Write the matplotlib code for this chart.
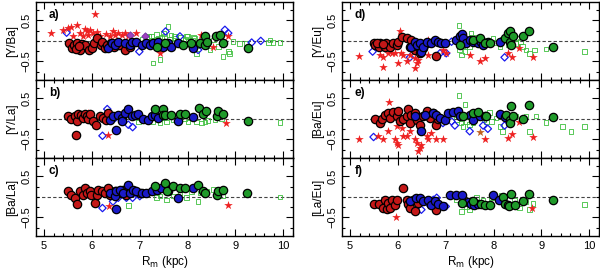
import numpy as np
import matplotlib
matplotlib.use('Agg')
import matplotlib.pyplot as plt
from matplotlib.ticker import MultipleLocator, FixedLocator

plt.rcParams['font.family'] = ['Liberation Sans', 'DejaVu Sans']

# ---- panel a) [Y/Ba]
a_red_x = [5.51, 5.58, 5.62, 5.69, 5.76, 5.79, 5.86, 5.93, 6.00, 6.04, 6.11, 6.18, 6.21, 6.28, 6.32, 6.39, 6.46, 6.56, 6.70, 6.80, 5.66, 5.72]
a_red_y = [-0.06, -0.18, -0.10, -0.06, -0.22, -0.08, -0.10, -0.22, -0.18, -0.06, 0.06, -0.10, -0.02, -0.18, -0.10, -0.06, -0.14, -0.10, -0.22, -0.14, -0.20, -0.12]
a_blue_x = [6.34, 6.41, 6.48, 6.55, 6.69, 6.79, 6.83, 6.93, 7.04, 7.14, 7.21, 7.28, 7.38, 7.49, 7.59, 7.66, 7.80, 8.12]
a_blue_y = [-0.18, -0.06, -0.10, -0.02, -0.04, -0.10, -0.02, -0.02, -0.10, -0.06, -0.10, -0.06, -0.02, -0.14, -0.06, -0.14, -0.06, -0.18]
a_green_x = [7.35, 7.52, 7.90, 8.08, 8.26, 8.36, 8.36, 8.40, 8.60, 8.67, 8.74, 9.27]
a_green_y = [-0.14, -0.06, -0.10, -0.06, -0.04, 0.11, -0.10, -0.02, 0.11, 0.15, -0.06, -0.18]
a_sq_x = [7.05, 7.12, 7.18, 7.22, 7.28, 7.30, 7.35, 7.40, 7.42, 7.45, 7.50, 7.55, 7.59, 7.62, 7.68, 7.72, 7.78, 7.85, 7.90, 7.95,
          8.00, 8.05, 8.10, 8.15, 8.19, 8.25, 8.30, 8.35, 8.47, 8.54, 8.64, 8.74, 8.85, 8.88, 8.95, 9.09, 9.23, 9.69, 9.72, 9.79, 9.93,
          7.15, 7.25, 7.33, 7.38, 7.48, 7.52, 7.65, 7.75, 7.82, 7.98, 8.02, 8.12, 8.22, 8.40]
a_sq_y = [0.05, -0.02, 0.10, -0.08, -0.54, 0.02, 0.15, -0.05, -0.46, 0.08, 0.18, -0.12, 0.35, 0.05, -0.04, 0.12, 0.00, 0.08, -0.06, 0.04,
          0.10, -0.10, 0.02, 0.06, -0.30, -0.05, 0.05, 0.02, -0.22, 0.02, -0.14, -0.38, -0.26, -0.30, -0.02, -0.06, -0.06, -0.04, 0.02, -0.04, -0.04,
          0.08, 0.12, -0.10, 0.06, -0.02, 0.10, 0.14, 0.06, -0.08, 0.12, -0.02, 0.08, -0.12, -0.06]
a_dia_x = [5.47, 6.99, 7.54, 7.84, 8.22, 8.78, 8.85, 9.34, 9.53]
a_dia_y = [0.20, -0.26, 0.23, 0.11, -0.22, 0.27, 0.19, -0.04, 0.00]
a_star_x = [5.15, 5.40, 5.50, 5.57, 5.60, 5.68, 5.75, 5.82, 5.89, 5.92, 5.96, 6.03, 6.06, 6.16, 6.37, 6.44, 6.48, 6.55, 6.62, 6.69, 6.76, 6.93,
            7.42, 8.29, 8.54, 8.85, 5.85, 6.10, 6.30]
a_star_y = [0.19, 0.27, 0.31, 0.35, 0.11, 0.39, 0.19, 0.11, 0.23, 0.15, 0.27, 0.19, 0.66, 0.11, 0.11, 0.23, 0.15, 0.19, 0.15, 0.19, 0.11, 0.19,
            -0.30, 0.15, -0.14, 0.11, 0.30, 0.22, 0.18]
a_purple_x = [6.80, 7.11]
a_purple_y = [0.15, 0.12]

# ---- panel b) [Y/La]
b_red_x = [5.50, 5.57, 5.64, 5.66, 5.68, 5.71, 5.78, 5.82, 5.85, 5.89, 5.92, 5.96, 6.03, 6.09, 6.16, 6.23, 6.30, 6.34]
b_red_y = [0.08, 0.00, 0.07, -0.38, -0.06, 0.13, 0.10, 0.02, 0.13, 0.08, 0.00, 0.13, -0.06, -0.14, 0.07, 0.02, -0.02, 0.15]
b_blue_x = [6.37, 6.44, 6.50, 6.55, 6.62, 6.62, 6.69, 6.76, 6.83, 6.90, 6.97, 7.07, 7.18, 7.25, 7.32, 7.38, 7.80, 8.12]
b_blue_y = [-0.02, 0.07, -0.28, 0.10, 0.02, -0.06, 0.15, 0.23, 0.07, 0.10, 0.13, 0.00, -0.02, 0.07, 0.10, 0.02, -0.06, 0.05]
b_green_x = [7.32, 7.49, 7.49, 7.53, 7.66, 7.84, 7.94, 8.24, 8.33, 8.38, 8.61, 8.64, 8.74, 9.27]
b_green_y = [0.23, 0.23, 0.10, 0.10, 0.10, 0.13, 0.13, 0.27, 0.13, 0.19, 0.07, 0.19, 0.13, -0.06]
b_sq_x = [6.97, 7.28, 7.42, 7.45, 7.56, 7.70, 7.94, 8.01, 8.19, 8.29, 8.36, 8.43, 8.57, 8.71, 9.93]
b_sq_y = [-0.07, -0.06, -0.10, 0.02, -0.07, -0.03, 0.01, -0.07, -0.07, -0.10, -0.07, -0.04, -0.02, 0.00, -0.08]
b_dia_x = [6.22, 6.32, 6.48, 6.76, 6.85]
b_dia_y = [-0.41, 0.24, 0.02, -0.14, -0.20]
b_star_x = [5.92, 6.34, 8.81]
b_star_y = [0.15, -0.38, -0.10]

# ---- panel c) [Ba/La]
c_red_x = [5.50, 5.57, 5.64, 5.68, 5.75, 5.82, 5.85, 5.90, 5.96, 5.99, 6.06, 6.10, 6.13, 6.20, 6.27, 6.34, 6.37, 6.48, 6.58, 6.65, 6.72, 6.83, 7.00]
c_red_y = [0.14, 0.06, -0.02, -0.16, 0.14, 0.06, 0.22, 0.10, 0.14, 0.06, -0.15, 0.06, 0.18, 0.14, 0.10, 0.22, 0.06, 0.14, 0.10, 0.18, 0.06, 0.14, 0.10]
c_blue_x = [6.37, 6.48, 6.50, 6.51, 6.58, 6.64, 6.76, 6.79, 6.86, 6.93, 7.04, 7.14, 7.25, 7.35, 7.45, 7.59, 7.80, 8.12]
c_blue_y = [0.10, 0.02, -0.29, 0.14, 0.18, 0.10, 0.30, 0.10, 0.18, 0.14, 0.10, 0.10, 0.14, 0.18, 0.22, 0.14, -0.02, 0.22]
c_green_x = [7.32, 7.52, 7.56, 7.70, 7.84, 7.94, 8.22, 8.33, 8.36, 8.61, 8.64, 8.74, 9.25]
c_green_y = [0.26, 0.33, 0.14, 0.26, 0.22, 0.22, 0.30, 0.14, 0.10, 0.06, 0.14, 0.18, 0.10]
c_sq_x = [6.76, 7.28, 7.35, 7.42, 7.56, 7.70, 7.84, 7.98, 8.08, 8.22, 8.26, 8.40, 8.54, 8.74, 9.93]
c_sq_y = [-0.21, 0.10, -0.02, 0.02, -0.07, 0.02, 0.10, -0.02, 0.14, -0.11, 0.10, 0.14, 0.18, 0.03, 0.00]
c_dia_x = [6.22, 6.44, 6.55, 6.72, 6.85, 7.00]
c_dia_y = [-0.27, -0.11, -0.02, -0.02, -0.02, 0.02]
c_star_x = [6.36, 8.84]
c_star_y = [-0.21, -0.19]

# ---- panel d) [Y/Eu]
d_red_x = [5.49, 5.52, 5.60, 5.63, 5.73, 5.76, 5.83, 5.90, 5.97, 6.00, 6.08, 6.18, 6.25, 6.28, 6.35, 6.46, 6.53, 6.60, 6.80, 5.56, 5.68, 6.40]
d_red_y = [-0.06, -0.10, -0.14, -0.06, -0.14, -0.04, -0.14, -0.04, -0.10, -0.02, 0.09, 0.07, -0.14, 0.02, -0.22, -0.30, -0.18, -0.06, -0.37, -0.04, -0.08, -0.12]
d_blue_x = [6.28, 6.35, 6.39, 6.46, 6.49, 6.53, 6.60, 6.70, 6.77, 6.84, 6.91, 6.98, 7.22, 7.29, 7.33, 7.36, 7.43, 7.50, 7.57, 7.67, 7.74, 7.78, 7.88, 8.13]
d_blue_y = [-0.14, -0.02, -0.10, -0.04, -0.26, -0.14, -0.02, -0.06, 0.02, -0.02, -0.06, -0.04, 0.02, 0.11, 0.17, 0.07, -0.06, 0.02, -0.02, -0.06, -0.02, -0.10, -0.02, -0.02]
d_green_x = [7.29, 7.57, 7.71, 7.81, 7.92, 8.23, 8.30, 8.34, 8.34, 8.37, 8.40, 8.61, 8.75, 9.24]
d_green_y = [-0.10, 0.02, 0.07, -0.06, -0.06, 0.07, 0.19, 0.23, -0.02, -0.10, 0.11, 0.11, 0.23, -0.14]
d_sq_x = [7.28, 7.29, 7.33, 7.40, 7.45, 7.50, 7.53, 7.60, 7.70, 7.85, 7.92, 7.99, 8.05, 8.13, 8.13, 8.30, 8.47, 8.51, 8.60, 8.68, 8.75, 8.85, 9.10, 9.90,
        7.36, 7.64, 7.76, 8.18, 8.56]
d_sq_y = [0.37, -0.22, -0.34, -0.26, -0.04, -0.14, 0.19, -0.06, -0.02, 0.02, -0.08, 0.07, -0.04, 0.02, -0.14, -0.10, -0.06, 0.07, -0.14, -0.22, -0.30, -0.22, -0.20, -0.26,
        -0.12, 0.08, -0.10, 0.04, -0.02]
d_dia_x = [5.47, 6.25, 6.88, 7.01, 7.12, 8.23]
d_dia_y = [-0.26, -0.40, -0.30, -0.30, -0.02, -0.40]
d_star_x = [5.19, 5.63, 5.69, 5.69, 5.80, 5.87, 5.94, 6.00, 6.04, 6.07, 6.11, 6.18, 6.25, 6.35, 6.35, 6.39, 6.42, 6.46, 6.63, 6.63,
            6.94, 7.01, 7.50, 7.71, 7.81, 8.30, 8.39, 8.54, 8.82]
d_star_y = [-0.37, -0.34, -0.63, -0.38, -0.30, -0.30, -0.30, -0.54, 0.25, -0.30, -0.34, -0.50, -0.34, -0.67, -0.42, -0.54, -0.46, -0.26, -0.34, 0.02,
            -0.22, -0.30, -0.34, -0.48, -0.42, -0.30, -0.38, -0.18, -0.38]

# ---- panel e) [Ba/Eu]
e_red_x = [5.52, 5.63, 5.66, 5.73, 5.80, 5.83, 5.90, 5.97, 6.00, 6.04, 6.11, 6.18, 6.22, 6.25, 6.28, 6.35, 6.39, 6.46, 6.53, 6.60, 6.67, 6.74, 6.80, 6.84]
e_red_y = [0.00, -0.10, 0.00, 0.10, 0.15, 0.02, 0.16, 0.07, 0.19, -0.06, 0.00, 0.07, 0.23, -0.10, 0.10, 0.15, -0.02, -0.14, 0.07, 0.19, 0.02, 0.15, -0.14, 0.00]
e_blue_x = [6.35, 6.49, 6.56, 6.74, 6.80, 6.88, 6.98, 7.05, 7.15, 7.26, 7.29, 7.50, 7.57, 7.71, 7.81, 8.13, 8.23]
e_blue_y = [0.07, -0.30, 0.10, 0.15, 0.10, 0.02, -0.02, 0.15, 0.16, 0.19, 0.07, 0.10, -0.02, 0.07, 0.07, 0.13, 0.05]
e_green_x = [7.36, 7.57, 7.67, 7.85, 8.26, 8.34, 8.34, 8.37, 8.40, 8.61, 8.74, 9.25]
e_green_y = [0.07, 0.15, 0.16, 0.07, 0.10, -0.02, -0.10, 0.31, 0.08, 0.00, 0.33, 0.05]
e_sq_x = [7.22, 7.28, 7.36, 7.40, 7.43, 7.57, 7.71, 7.85, 7.92, 7.95, 8.13, 8.19, 8.47, 8.68, 8.75, 8.89, 9.10, 9.44, 9.62, 9.90,
          7.32, 7.50, 7.62, 7.80, 8.05, 8.30, 8.58]
e_sq_y = [-0.02, 0.57, -0.18, 0.35, -0.06, -0.10, 0.13, -0.06, 0.16, -0.06, -0.18, -0.30, 0.07, 0.07, -0.30, 0.07, -0.08, -0.18, -0.30, -0.18,
          -0.10, -0.14, 0.04, -0.02, 0.02, -0.08, -0.04]
e_dia_x = [5.49, 6.94, 7.12, 7.19, 7.50, 7.78, 7.88, 8.23]
e_dia_y = [-0.44, -0.10, -0.06, -0.16, -0.30, -0.16, -0.24, -0.16]
e_star_x = [5.19, 5.59, 5.69, 5.80, 5.82, 5.94, 5.97, 5.97, 6.00, 6.08, 6.11, 6.18, 6.25, 6.35, 6.39, 6.42, 6.46, 6.49, 6.60, 6.63,
            6.70, 6.80, 6.94, 7.81, 8.30, 8.39, 8.54, 8.82]
e_star_y = [-0.50, -0.42, -0.50, -0.30, 0.41, -0.50, -0.58, -0.18, -0.63, -0.22, -0.42, -0.42, -0.30, -0.50, -0.58, -0.79, -0.71, -0.63, -0.42, -0.50,
            -0.34, -0.49, -0.50, -0.50, -0.46, -0.36, -0.08, -0.44]
e_brown_x = [7.71]
e_brown_y = [-0.33]

# ---- panel f) [La/Eu]
f_red_x = [5.50, 5.61, 5.69, 5.73, 5.78, 5.80, 5.83, 5.87, 5.94, 5.99, 6.10, 6.18, 6.22, 6.25, 6.32, 6.35, 6.42, 6.80]
f_red_y = [-0.16, -0.16, -0.27, -0.07, -0.29, -0.15, -0.27, -0.07, -0.19, -0.07, 0.22, -0.07, -0.16, -0.27, -0.08, -0.33, -0.15, -0.31]
f_blue_x = [6.25, 6.38, 6.46, 6.53, 6.63, 6.70, 6.77, 6.84, 6.94, 7.08, 7.22, 7.33, 7.47, 7.53, 7.60, 7.67, 7.99, 8.11]
f_blue_y = [-0.11, -0.02, -0.02, -0.11, -0.08, -0.19, -0.11, -0.16, -0.21, 0.06, 0.06, 0.06, -0.13, -0.16, -0.19, -0.16, 0.06, -0.07]
f_green_x = [7.33, 7.57, 7.74, 7.81, 7.92, 8.19, 8.23, 8.30, 8.33, 8.37, 8.44, 8.61, 8.74, 9.25]
f_green_y = [-0.15, -0.11, -0.16, -0.19, -0.19, 0.00, -0.16, -0.19, -0.23, 0.08, -0.19, -0.11, 0.08, -0.08]
f_sq_x = [7.22, 7.22, 7.33, 7.43, 7.50, 7.64, 7.78, 7.95, 8.09, 8.16, 8.44, 8.54, 8.68, 8.75, 8.82, 9.90]
f_sq_y = [-0.07, 0.06, -0.35, -0.23, -0.31, -0.02, -0.07, -0.02, -0.07, 0.03, -0.07, -0.27, -0.11, -0.31, -0.16, -0.19]
f_dia_x = [6.49, 6.63, 6.74, 6.81, 7.00]
f_dia_y = [-0.31, -0.16, -0.07, -0.02, -0.23]
f_star_x = [5.95, 8.81]
f_star_y = [-0.49, -0.28]

panel_labels = ['a)', 'b)', 'c)', 'd)', 'e)', 'f)']
ylabels = ['[Y/Ba]', '[Y/La]', '[Ba/La]', '[Y/Eu]', '[Ba/Eu]', '[La/Eu]']
xlabel = 'R$_\\mathrm{m}$ (kpc)'

panels = [
    (a_red_x, a_red_y, a_blue_x, a_blue_y, a_green_x, a_green_y, a_sq_x, a_sq_y, a_dia_x, a_dia_y, a_star_x, a_star_y),
    (b_red_x, b_red_y, b_blue_x, b_blue_y, b_green_x, b_green_y, b_sq_x, b_sq_y, b_dia_x, b_dia_y, b_star_x, b_star_y),
    (c_red_x, c_red_y, c_blue_x, c_blue_y, c_green_x, c_green_y, c_sq_x, c_sq_y, c_dia_x, c_dia_y, c_star_x, c_star_y),
    (d_red_x, d_red_y, d_blue_x, d_blue_y, d_green_x, d_green_y, d_sq_x, d_sq_y, d_dia_x, d_dia_y, d_star_x, d_star_y),
    (e_red_x, e_red_y, e_blue_x, e_blue_y, e_green_x, e_green_y, e_sq_x, e_sq_y, e_dia_x, e_dia_y, e_star_x, e_star_y),
    (f_red_x, f_red_y, f_blue_x, f_blue_y, f_green_x, f_green_y, f_sq_x, f_sq_y, f_dia_x, f_dia_y, f_star_x, f_star_y),
]

fig = plt.figure(figsize=(6, 2.7), dpi=100)
lefts = [0.06, 0.57]
width = 0.428
height = 0.289
bottoms = [0.704, 0.415, 0.126]

for i in range(6):
    col, row = i // 3, i % 3
    ax = fig.add_axes([lefts[col], bottoms[row], width, height])
    rx, ry, bx, by, gx, gy, sx, sy, dx, dy, tx, ty = panels[i]
    ax.axhline(0, color='#444444', ls=(0, (3, 2)), lw=0.8, zorder=1)
    ax.scatter(sx, sy, marker='s', s=11, facecolors='none', edgecolors='#3dbf3d', linewidths=0.6, zorder=2)
    ax.scatter(dx, dy, marker='D', s=14, facecolors='none', edgecolors='#1a1aee', linewidths=0.9, zorder=3)
    ax.scatter(tx, ty, marker='*', s=42, color='#ee2222', linewidths=0, zorder=3)
    ax.scatter(rx, ry, marker='o', s=36, color='#c41818', edgecolors='black', linewidths=0.9, zorder=4)
    ax.scatter(bx, by, marker='o', s=36, color='#1a1ac8', edgecolors='black', linewidths=0.9, zorder=4)
    ax.scatter(gx, gy, marker='o', s=36, color='#1f9a2a', edgecolors='black', linewidths=0.9, zorder=4)
    if i == 0:
        ax.scatter(a_purple_x, a_purple_y, marker='D', s=14, color='#a040c0', edgecolors='#7030a0', linewidths=0.6, zorder=3)
    if i == 4:
        ax.scatter(e_brown_x, e_brown_y, marker='*', s=42, color='#c06020', linewidths=0, zorder=3)

    ax.set_xlim(4.83, 10.2)
    ax.set_ylim(-0.95, 0.95)
    ax.xaxis.set_major_locator(MultipleLocator(1))
    ax.xaxis.set_minor_locator(MultipleLocator(0.2))
    ax.yaxis.set_major_locator(FixedLocator([-0.5, 0.5]))
    ax.yaxis.set_minor_locator(FixedLocator([-0.75, -0.25, 0, 0.25, 0.75]))
    ax.tick_params(which='both', direction='in', top=True, right=True, width=0.8)
    ax.tick_params(which='major', length=5, labelsize=8)
    ax.tick_params(which='minor', length=2.5)
    for lab in ax.get_yticklabels():
        lab.set_rotation(90)
        lab.set_va('center')
    ax.set_ylabel(ylabels[i], fontsize=8.5, labelpad=2)
    ax.text(0.05, 0.83, panel_labels[i], transform=ax.transAxes, fontsize=8.5, fontweight='bold', va='center')
    for sp in ax.spines.values():
        sp.set_linewidth(1.0)
    if row < 2:
        ax.tick_params(labelbottom=False)
    else:
        ax.set_xlabel(xlabel, fontsize=8.5, labelpad=2)

fig.savefig('out.png', dpi=100)
